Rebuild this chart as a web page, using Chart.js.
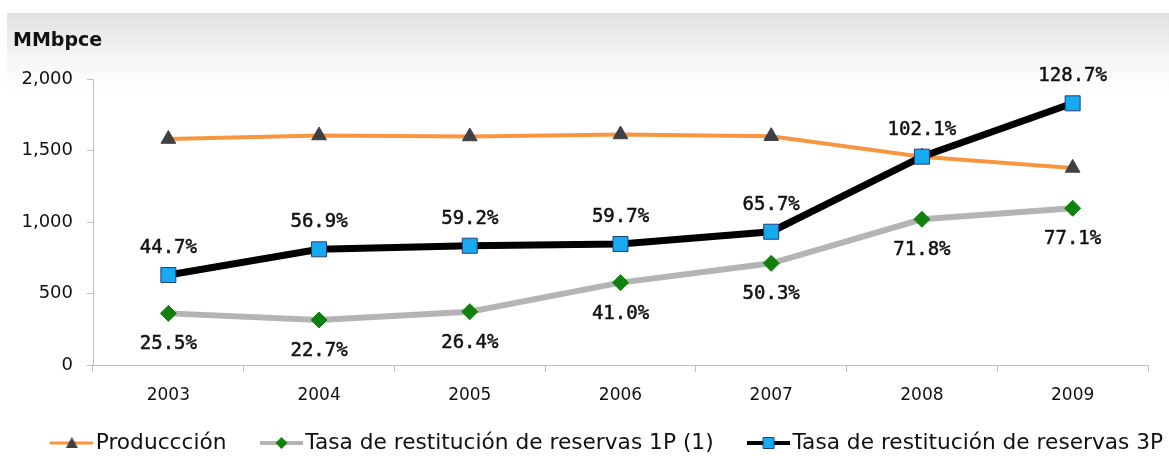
<!DOCTYPE html>
<html>
<head>
<meta charset="utf-8">
<script src="https://cdn.jsdelivr.net/npm/chart.js@4.4.1/dist/chart.umd.min.js"></script>
<style>
  html, body { margin: 0; padding: 0; background: #ffffff; }
  #c { display: block; }
</style>
</head>
<body>
<canvas id="c" width="1169" height="456"></canvas>
<script>
// ---- Data ----
const years = ['2003', '2004', '2005', '2006', '2007', '2008', '2009'];
const produccion = [1580, 1605, 1598, 1612, 1600, 1457, 1378];
const reservas1P = [361, 315, 373, 576, 711, 1019, 1096];
const reservas3P = [629, 809, 834, 846, 932, 1457, 1830];
const labels1P = ['25.5%', '22.7%', '26.4%', '41.0%', '50.3%', '71.8%', '77.1%'];
const labels3P = ['44.7%', '56.9%', '59.2%', '59.7%', '65.7%', '102.1%', '128.7%'];
const yTicks = [0, 500, 1000, 1500, 2000];
const seriesNames = ['Produccción', 'Tasa de restitución de reservas 1P (1)', 'Tasa de restitución de reservas 3P'];
const unitLabel = 'MMbpce';

// ---- Styles ----
const ORANGE = '#F7963F';
const TRI = '#3F4046';
const GRAY = '#B4B4B4';
const GREEN = '#11800F';
const BLACK = '#000000';
const BLUE = '#18AAF0';
const BLUE_EDGE = '#1F3F7A';
const AXIS = '#BFBFBF';
const TEXT = '#111111';

Chart.defaults.font.family = '"DejaVu Sans", sans-serif';

function legendIcon(lineColor, lineW, marker) {
  const c = document.createElement('canvas');
  c.width = 43; c.height = 16;
  const g = c.getContext('2d');
  g.strokeStyle = lineColor; g.lineWidth = lineW;
  g.beginPath(); g.moveTo(0, 8); g.lineTo(43, 8); g.stroke();
  const cx = 21.5, cy = 8;
  g.beginPath();
  if (marker === 'triangle') {
    g.fillStyle = TRI;
    g.moveTo(cx, cy - 6); g.lineTo(cx + 6, cy + 5); g.lineTo(cx - 6, cy + 5); g.closePath(); g.fill();
  } else if (marker === 'diamond') {
    g.fillStyle = GREEN;
    g.moveTo(cx, cy - 6); g.lineTo(cx + 6, cy); g.lineTo(cx, cy + 6); g.lineTo(cx - 6, cy); g.closePath(); g.fill();
  } else {
    g.fillStyle = BLUE; g.strokeStyle = BLUE_EDGE; g.lineWidth = 1;
    g.rect(cx - 5.5, cy - 5.5, 11, 11); g.fill(); g.stroke();
  }
  return c;
}
const legendIcons = [
  legendIcon(ORANGE, 3, 'triangle'),
  legendIcon(GRAY, 4, 'diamond'),
  legendIcon(BLACK, 4, 'square')
];

const backgroundPlugin = {
  id: 'bgBand',
  beforeDraw(chart) {
    // let the category labels extend below the (short) x-axis box
    if (chart.scales.x) chart.scales.x._computeLabelArea = function () { return undefined; };
    const ctx = chart.ctx;
    ctx.save();
    ctx.fillStyle = '#ffffff';
    ctx.fillRect(0, 0, chart.width, chart.height);
    const grad = ctx.createLinearGradient(0, 13, 0, 92);
    grad.addColorStop(0, '#e1e1e1');
    grad.addColorStop(0.55, '#f5f5f5');
    grad.addColorStop(1, '#ffffff');
    ctx.fillStyle = grad;
    ctx.fillRect(7, 13, chart.width - 7, 79);
    ctx.restore();
  }
};

const valueLabelPlugin = {
  id: 'valueLabels',
  afterDatasetsDraw(chart) {
    const ctx = chart.ctx;
    chart.data.datasets.forEach((ds, i) => {
      if (!ds.valueLabels) return;
      const meta = chart.getDatasetMeta(i);
      ctx.save();
      ctx.font = '19px "DejaVu Sans Mono", monospace';
      ctx.fillStyle = TEXT;
      ctx.strokeStyle = TEXT;
      ctx.lineWidth = 0.5;
      ctx.textAlign = 'center';
      ctx.textBaseline = 'middle';
      meta.data.forEach((pt, j) => {
        const dy = ds.labelAbove ? -27 : 31;
        ctx.fillText(ds.valueLabels[j], pt.x, pt.y + dy);
        ctx.strokeText(ds.valueLabels[j], pt.x, pt.y + dy);
      });
      ctx.restore();
    });
  }
};

new Chart(document.getElementById('c'), {
  type: 'line',
  data: {
    labels: years,
    datasets: [
      {
        label: seriesNames[0],
        data: produccion,
        borderColor: ORANGE,
        borderWidth: 4,
        pointStyle: 'triangle',
        pointRadius: 8.5,
        pointBackgroundColor: TRI,
        pointBorderColor: TRI,
        pointBorderWidth: 1,
        tension: 0,
        order: 2
      },
      {
        label: seriesNames[1],
        data: reservas1P,
        borderColor: GRAY,
        borderWidth: 6,
        pointStyle: 'rectRot',
        pointRadius: 8,
        pointBackgroundColor: GREEN,
        pointBorderColor: GREEN,
        pointBorderWidth: 1,
        tension: 0,
        order: 1,
        valueLabels: labels1P,
        labelAbove: false
      },
      {
        label: seriesNames[2],
        data: reservas3P,
        borderColor: BLACK,
        borderWidth: 7,
        pointStyle: 'rect',
        pointRadius: 10.6,
        pointBackgroundColor: BLUE,
        pointBorderColor: BLUE_EDGE,
        pointBorderWidth: 1,
        tension: 0,
        order: 0,
        valueLabels: labels3P,
        labelAbove: true
      }
    ]
  },
  options: {
    responsive: false,
    animation: false,
    devicePixelRatio: 1,
    locale: 'en-US',
    layout: { padding: { left: 13, right: -40, top: 0, bottom: -7.85 } },
    scales: {
      x: {
        type: 'category',
        offset: true,
        grid: { display: true, offset: true, drawOnChartArea: false, drawTicks: true, tickLength: 7, color: AXIS, lineWidth: 1 },
        border: { display: true, color: AXIS, width: 1 },
        ticks: { color: TEXT, font: { size: 17 }, padding: 13, maxRotation: 0 },
        afterFit(s) { s.height = 25.15; }
      },
      y: {
        type: 'linear',
        min: 0,
        max: 2000,
        afterBuildTicks(s) { s.ticks = yTicks.map(v => ({ value: v })); },
        grid: { display: true, drawOnChartArea: false, drawTicks: true, tickLength: 6, color: AXIS, lineWidth: 1 },
        border: { display: true, color: AXIS, width: 1 },
        ticks: { color: TEXT, font: { size: 18 }, padding: 14 },
        afterFit(s) { s.width = 80; }
      },
      yPad: {
        type: 'linear',
        position: 'right',
        display: true,
        grid: { display: false },
        border: { display: false },
        ticks: { display: false },
        afterFit(s) { s.width = 61; }
      }
    },
    plugins: {
      title: {
        display: true,
        text: unitLabel,
        align: 'start',
        color: TEXT,
        font: { size: 19, weight: 'bold' },
        padding: { top: 29.6, bottom: 26.6 }
      },
      legend: {
        display: true,
        position: 'bottom',
        align: 'center',
        labels: {
          usePointStyle: true,
          pointStyleWidth: 26,
          padding: 42,
          color: TEXT,
          font: { size: 21.7 },
          sort: (a, b) => a.datasetIndex - b.datasetIndex,
          generateLabels(chart) {
            const items = Chart.defaults.plugins.legend.labels.generateLabels(chart);
            items.forEach(it => { it.pointStyle = legendIcons[it.datasetIndex]; });
            return items;
          }
        }
      },
      tooltip: { enabled: false }
    }
  },
  plugins: [backgroundPlugin, valueLabelPlugin]
});
</script>
</body>
</html>
